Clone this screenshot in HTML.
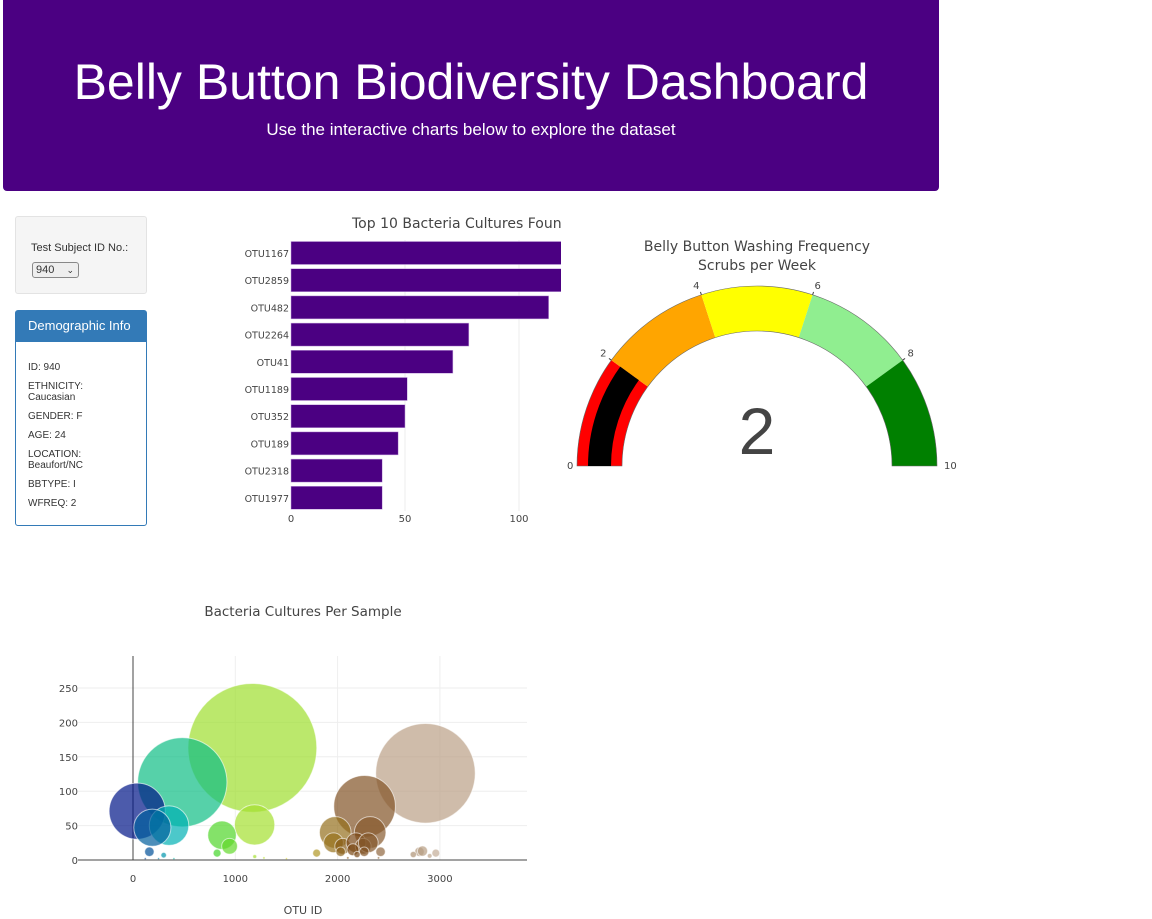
<!DOCTYPE html>
<html><head><meta charset="utf-8">
<style>
body{margin:0;width:1152px;height:919px;background:#fff;position:relative;overflow:hidden;font-family:"Liberation Sans",Arial,sans-serif;}
.hdr{position:absolute;left:3px;top:0;width:936px;height:191px;background:#4b0082;border-radius:0 0 4px 4px;color:#fff;text-align:center;}
.hdr h1{position:absolute;left:0;right:0;top:54px;margin:0;font-weight:normal;font-size:50px;line-height:56px;}
.hdr p{position:absolute;left:0;right:0;top:120px;margin:0;font-size:17px;}
.well{position:absolute;left:15px;top:216px;width:130px;height:76px;background:#f5f5f5;border:1px solid #e3e3e3;border-radius:3px;font-size:11px;color:#333;}
.well label{position:absolute;left:15px;top:25px;}
.well .sel{position:absolute;left:16px;top:45px;width:42px;height:14px;border:1px solid #888;border-radius:3px;background:#eee;font-size:11px;line-height:14px;padding-left:3px;}
.panel{position:absolute;left:15px;top:310px;width:130px;height:214px;border:1px solid #337ab7;border-radius:3px;font-size:10px;color:#333;}
.panel .ph{height:31px;background:#337ab7;color:#fff;font-size:13px;line-height:30px;padding-left:12px;}
.panel .pb{padding:20px 12px 0 12px;}
.panel .pb div{margin-bottom:8px;line-height:11px;}
svg text{font-family:"DejaVu Sans",Verdana,sans-serif;}
</style></head><body>
<div class="hdr">
<h1>Belly Button Biodiversity Dashboard</h1>
<p>Use the interactive charts below to explore the dataset</p>
</div>
<div class="well">
<label>Test Subject ID No.:</label>
<div class="sel">940 <span style="position:absolute;right:4px;top:0;font-size:9px">&#8964;</span></div>
</div>
<div class="panel">
<div class="ph">Demographic Info</div>
<div class="pb">
<div>ID: 940</div><div>ETHNICITY:<br>Caucasian</div><div>GENDER: F</div><div>AGE: 24</div><div>LOCATION:<br>Beaufort/NC</div><div>BBTYPE: I</div><div>WFREQ: 2</div>
</div></div>
<svg id="chart" width="1152" height="919" style="position:absolute;left:0;top:0"></svg>
<script>
// Bar chart data
const barLabels=["OTU1167","OTU2859","OTU482","OTU2264","OTU41","OTU1189","OTU352","OTU189","OTU2318","OTU1977"];
const barValues=[163,126,113,78,71,51,50,47,40,40];
const barTicks=[0,50,100];
// Gauge data
const gaugeValue=2;
const gaugeSteps=[0,2,4,6,8,10];
const gaugeColors=["red","orange","yellow","lightgreen","green"];
const gaugeTicks=[0,2,4,6,8,10];
// Bubble data
const bubbleIds=[1167,2859,482,2264,41,1189,352,189,2318,1977,870,944,160,300,822,1795,1960,2050,2180,2250,2300,2150,2030,2260,2420,2190,2800,2830,2960,2740,2900,120,250,400,1190,1280,1500,2100,2400];
const bubbleValues=[163,126,113,78,71,51,50,47,40,40,36,20,12,7,10,10,25,20,25,20,25,15,12,12,12,8,12,13,10,8,6,2,2,2,5,3,2,3,3];
const xTicks=[0,1000,2000,3000];
const yTicks=[0,50,100,150,200,250];

const NS="http://www.w3.org/2000/svg";
const svg=document.getElementById('chart');
function mk(t,a,p){const e=document.createElementNS(NS,t);for(const k in a)e.setAttribute(k,a[k]);(p||svg).appendChild(e);return e;}

// ---- Bar chart ----
const bx=v=>291+v*2.28;
const rowY=i=>253+i*27.2;
mk('defs',{}).innerHTML='<clipPath id="bc"><rect x="0" y="200" width="561" height="340"/></clipPath><clipPath id="pc"><rect x="78" y="656" width="449" height="204"/></clipPath>';
const bg=mk('g',{});


bg.setAttribute('clip-path','url(#bc)');
const tt=mk('text',{x:352,y:228,'font-size':14,fill:'#444'},bg);tt.textContent='Top 10 Bacteria Cultures Found';


barTicks.forEach(t=>{
  if(t>0)mk('line',{x1:bx(t),x2:bx(t),y1:240,y2:511,stroke:'#eee'},bg);
  const l=mk('text',{x:bx(t),y:522,'font-size':10,fill:'#444','text-anchor':'middle'},bg);l.textContent=t;
  
  
});
barLabels.forEach((n,i)=>{
  const r=mk('rect',{x:bx(0),y:rowY(i)-11.5,width:bx(barValues[i])-bx(0),height:23,fill:'#4b0082',stroke:'#c8a8e0','stroke-width':0.5},bg);
  
  
  const l=mk('text',{x:289,y:rowY(i)+4,'font-size':9.5,fill:'#444','text-anchor':'end'},bg);l.textContent=n;
  
  
});

// ---- Gauge ----
const gg=mk('g',{});


const cx=757,cy=466,R=180,r0=135;
const ang=v=>Math.PI*(1-v/10);
const pt=(v,rad)=>[cx+rad*Math.cos(ang(v)),cy-rad*Math.sin(ang(v))];
function arc(a,b,ro,ri){const p1=pt(a,ro),p2=pt(b,ro),p3=pt(b,ri),p4=pt(a,ri);
 return `M${p1}A${ro},${ro} 0 0 1 ${p2}L${p3}A${ri},${ri} 0 0 0 ${p4}Z`;}
for(let i=0;i<gaugeColors.length;i++){
  const s=mk('path',{d:arc(gaugeSteps[i],gaugeSteps[i+1],R,r0),fill:gaugeColors[i]},gg);
  
  
}
mk('path',{d:arc(0,10,R,r0),fill:'none',stroke:'#666','stroke-width':0.6},gg);
const gb=mk('path',{d:arc(0,gaugeValue,169,146),fill:'#000'},gg);


gaugeTicks.forEach(t=>{
  const l=mk('text',{'font-size':10,fill:'#444'},gg);l.textContent=t;
  
  
  if(t===0){l.setAttribute('x',cx-R-10);l.setAttribute('y',cy+3);}
  else if(t===10){l.setAttribute('x',cx+R+7);l.setAttribute('y',cy+3);}
  else{const p=pt(t,R+6);l.setAttribute('x',p[0]);l.setAttribute('y',p[1]);l.setAttribute('text-anchor',t<5?'end':'start');
   const q=pt(t,R),q2=pt(t,R+3);mk('line',{x1:q[0],y1:q[1],x2:q2[0],y2:q2[1],stroke:'#444'},gg);}
});
const g1=mk('text',{x:cx,y:251,'font-size':14,fill:'#444','text-anchor':'middle'},gg);g1.textContent='Belly Button Washing Frequency';


const g2=mk('text',{x:cx,y:270,'font-size':14,fill:'#444','text-anchor':'middle'},gg);g2.textContent='Scrubs per Week';


const gv=mk('text',{x:cx,y:454,'font-size':66,fill:'#444','text-anchor':'middle',style:'font-family:"Liberation Sans",sans-serif'},gg);gv.textContent=gaugeValue;



// ---- Bubble chart ----
const ug=mk('g',{});


const ux=v=>133+v*0.1023, uy=v=>860-v*0.688;
const ut=mk('text',{x:303,y:616,'font-size':13.5,fill:'#444','text-anchor':'middle'},ug);ut.textContent='Bacteria Cultures Per Sample';


yTicks.forEach(t=>{
  if(t>0)mk('line',{x1:78,x2:527,y1:uy(t),y2:uy(t),stroke:'#eee'},ug);
  const l=mk('text',{x:78,y:uy(t)+4,'font-size':10,fill:'#444','text-anchor':'end'},ug);l.textContent=t;
  
  
});
xTicks.forEach(t=>{
  if(t>0)mk('line',{x1:ux(t),x2:ux(t),y1:656,y2:860,stroke:'#eee'},ug);
  const l=mk('text',{x:ux(t),y:882,'font-size':10,fill:'#444','text-anchor':'middle'},ug);l.textContent=t;
  
  
});
const stops=[[0,[0,0,130]],[0.1,[0,180,180]],[0.2,[40,210,40]],[0.4,[230,230,50]],[0.6,[120,70,20]],[1,[255,255,255]]];
function col(id){const f=Math.min(1,Math.max(0,id/3600));for(let i=1;i<stops.length;i++){if(f<=stops[i][0]){const a=stops[i-1],b=stops[i],k=(f-a[0])/(b[0]-a[0]);return 'rgb('+a[1].map((c,j)=>Math.round(c+(b[1][j]-c)*k)).join(',')+')';}}return '#fff';}
const pg=mk('g',{'clip-path':'url(#pc)'},ug);
mk('line',{x1:ux(0),x2:ux(0),y1:656,y2:860,stroke:'#444','stroke-width':1},pg);
bubbleIds.forEach((id,i)=>{
  const c=mk('circle',{cx:ux(id),cy:uy(bubbleValues[i]),r:Math.max(1,bubbleValues[i]*0.395),fill:col(id),'fill-opacity':0.7,stroke:'#fff','stroke-opacity':0.6,'stroke-width':1},pg);
  
  
});
mk('line',{x1:78,x2:527,y1:860,y2:860,stroke:'#444','stroke-width':1},ug);
const xl=mk('text',{x:303,y:914,'font-size':11,fill:'#444','text-anchor':'middle'},ug);xl.textContent='OTU ID';


</script>
</body></html>
